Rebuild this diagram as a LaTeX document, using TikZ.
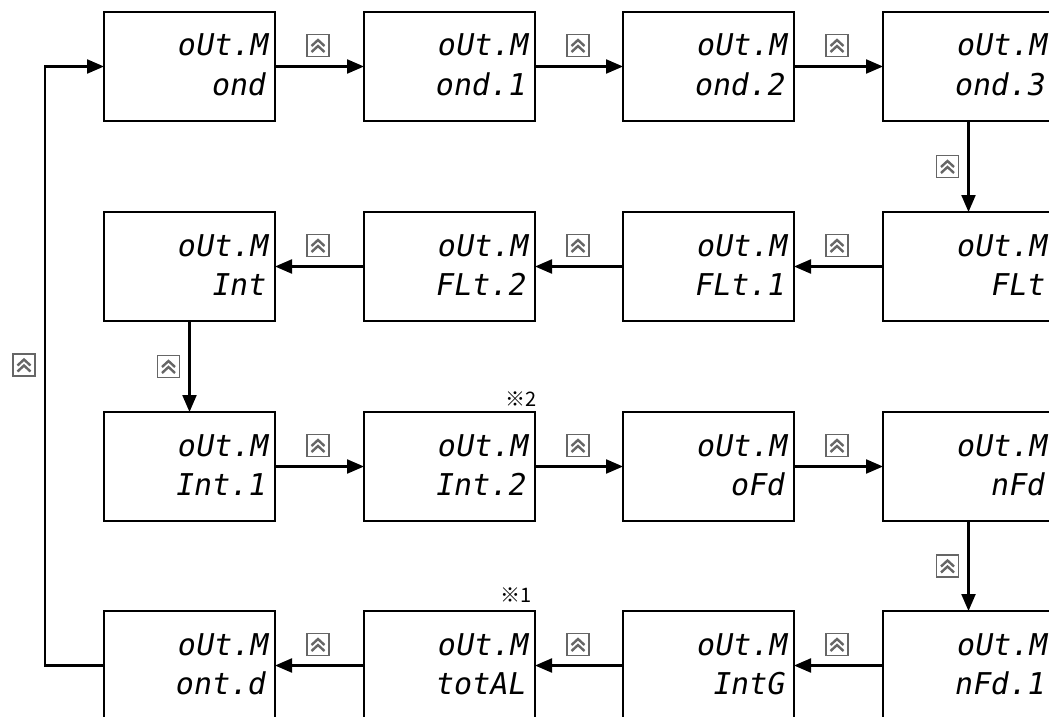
\documentclass[tikz,border=0pt]{standalone}
\usepackage{fontspec}
\usetikzlibrary{arrows.meta,calc}
\newfontfamily\segfont[FakeSlant=0.18]{DejaVu Sans Mono}
\newfontfamily\cjkfont{Noto Sans CJK JP}
\newcommand\segbox[4]{%
  \node[box] (#1) at (#2,#3) {};
  \node[segtxt] (#1a) at ($(#1.north east)+(-8,44)$) {oUt.M};
  \node[segtxt] (#1b) at ($(#1.north east)+(-10,83)$) {#4};
}
\newcommand\chev[2]{%
  \draw[line width=2.4pt] ([shift={(-6.5pt,#1pt)}]path picture bounding box.center) --
    ([shift={(0pt,#2pt)}]path picture bounding box.center) --
    ([shift={(6.5pt,#1pt)}]path picture bounding box.center);
}
\begin{document}
\begin{tikzpicture}[x=1pt,y=-1pt,
  box/.style={draw, line width=2.8pt, minimum width=171pt, minimum height=109pt,
    inner sep=0pt, outer sep=0pt, anchor=north west},
  segtxt/.style={font=\segfont\fontsize{30}{30}\selectfont, inner sep=0pt, anchor=base east},
  arr/.style={line width=2.2pt, -{Triangle[length=17pt,width=14pt]}},
  key/.style={draw=black!60, line width=1.1pt, fill=white, minimum size=22pt,
    inner sep=0pt, path picture={\chev{-0.5}{5.5}\chev{-6.5}{-0.5}}},
  note/.style={font=\cjkfont\fontsize{20}{20}\selectfont, inner sep=0pt, anchor=base east}
]
\useasboundingbox (0,0) rectangle (1049,717);
\clip (0,0) rectangle (1049,717);

% row 1
\segbox{b11}{104}{12}{ond}
\segbox{b12}{364}{12}{ond.1}
\segbox{b13}{623}{12}{ond.2}
\segbox{b14}{883}{12}{ond.3}
% row 2
\segbox{b21}{104}{212}{Int}
\segbox{b22}{364}{212}{FLt.2}
\segbox{b23}{623}{212}{FLt.1}
\segbox{b24}{883}{212}{FLt}
% row 3
\segbox{b31}{104}{412}{Int.1}
\segbox{b32}{364}{412}{Int.2}
\segbox{b33}{623}{412}{oFd}
\segbox{b34}{883}{412}{nFd}
% row 4
\segbox{b41}{104}{611}{ont.d}
\segbox{b42}{364}{611}{totAL}
\segbox{b43}{623}{611}{IntG}
\segbox{b44}{883}{611}{nFd.1}

% notes
\node[note] (n2) at ($(b32.north east)+(2,-6)$) {※2};
\node[note] (n1) at ($(b42.north east)+(-3,-9)$) {※1};

% connectors
\draw[arr] (b11) -- (b12);
\draw[arr] (b12) -- (b13);
\draw[arr] (b13) -- (b14);
\draw[arr] (b14) -- (b24);
\draw[arr] (b24) -- (b23);
\draw[arr] (b23) -- (b22);
\draw[arr] (b22) -- (b21);
\draw[arr] (b21) -- (b31);
\draw[arr] (b31) -- (b32);
\draw[arr] (b32) -- (b33);
\draw[arr] (b33) -- (b34);
\draw[arr] (b34) -- (b44);
\draw[arr] (b44) -- (b43);
\draw[arr] (b43) -- (b42);
\draw[arr] (b42) -- (b41);
\coordinate (lp) at (45,365);
\draw[arr] (b41.west) -- (b41.west -| lp) |- (b11.west);

% keys
\node[key] (k1) at ($(b11.east)+(43,-21)$) {};
\node[key] (k2) at ($(b12.east)+(43,-21)$) {};
\node[key] (k3) at ($(b13.east)+(43,-21)$) {};
\node[key] (k4) at ($(b14.south)!0.5!(b24.north)+(-21,0)$) {};
\node[key] (k5) at ($(b23.east)+(43,-21)$) {};
\node[key] (k6) at ($(b22.east)+(43,-21)$) {};
\node[key] (k7) at ($(b21.east)+(43,-21)$) {};
\node[key] (k8) at ($(b21.south)!0.5!(b31.north)+(-21,0)$) {};
\node[key] (k9) at ($(b31.east)+(43,-21)$) {};
\node[key] (k10) at ($(b32.east)+(43,-21)$) {};
\node[key] (k11) at ($(b33.east)+(43,-21)$) {};
\node[key] (k12) at ($(b34.south)!0.5!(b44.north)+(-21,0)$) {};
\node[key] (k13) at ($(b43.east)+(43,-21)$) {};
\node[key] (k14) at ($(b42.east)+(43,-21)$) {};
\node[key] (k15) at ($(b41.east)+(43,-21)$) {};
\node[key] (k16) at ($(lp)+(-21,0)$) {};
\end{tikzpicture}
\end{document}
